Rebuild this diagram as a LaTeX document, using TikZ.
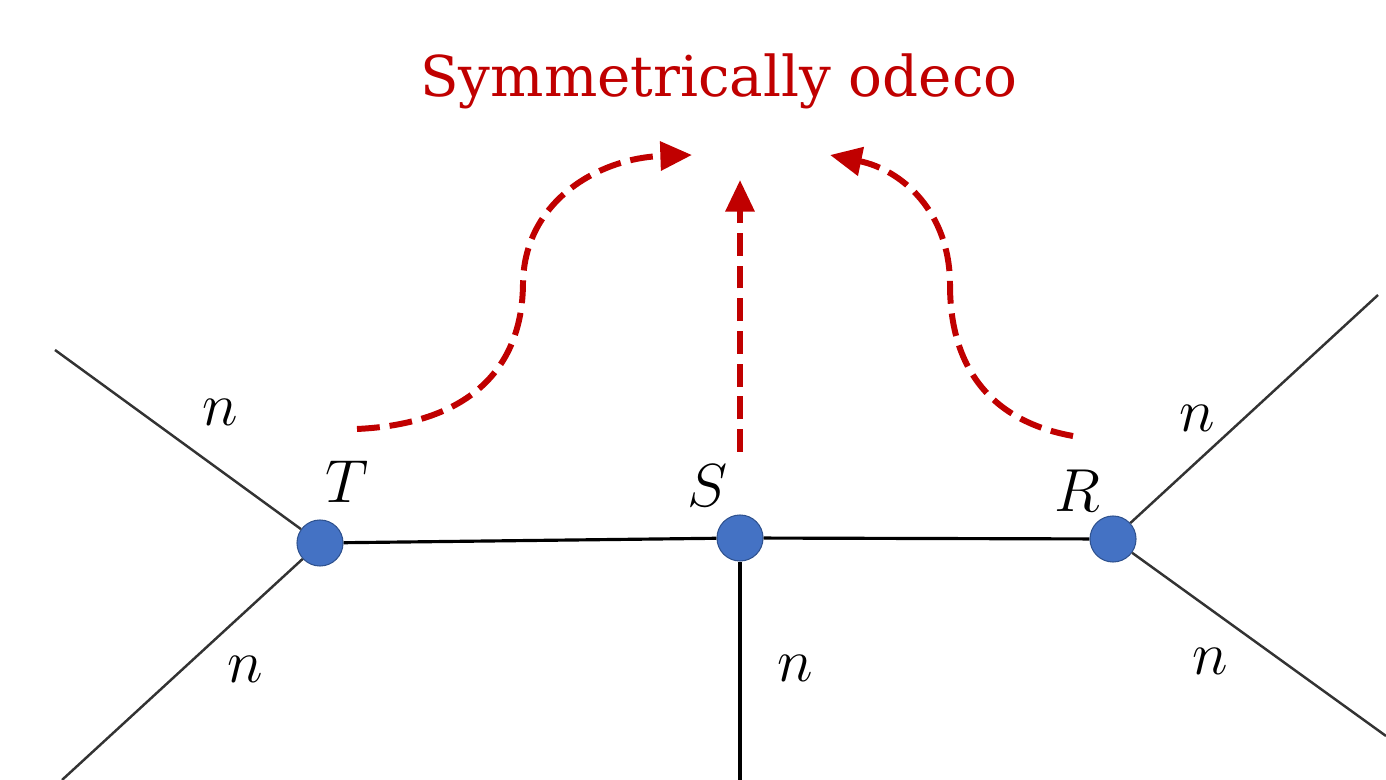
\documentclass[tikz,border=0pt]{standalone}
\usepackage{fontspec}
\usepackage{xcolor}
\usepackage{tikz}
\usetikzlibrary{arrows.meta}
\newfontfamily\titlefont{DejaVu Serif}
\definecolor{odecored}{HTML}{C00000}
\definecolor{vertblue}{HTML}{4472C4}
\definecolor{vertedge}{HTML}{2F528F}
\begin{document}
\begin{tikzpicture}[x=0.01cm,y=-0.01cm,
   vert/.style={circle,fill=vertblue,draw=vertedge,line width=0.3pt,inner sep=0pt,minimum size=0.46cm},
   leg/.style={draw=black!80,line width=0.7pt},
   bond/.style={draw=black,line width=0.9pt},
   flow/.style={draw=odecored,line width=1.7pt,dash pattern=on 6.5pt off 2.8pt,
      -{Triangle[length=9pt,width=8pt]}},
   lab/.style={inner sep=0pt,font=\fontsize{18}{20}\selectfont}]
\useasboundingbox (0,0) rectangle (1386,780);
% title and the three tensors
\node[anchor=base,text=odecored,font=\titlefont\fontsize{16}{19}\selectfont] (title) at (719,97) {Symmetrically odeco};
\node[vert] (T) at (320,543) {};
\node[vert] (S) at (740,538) {};
\node[vert] (R) at (1113,539) {};
% free ends of the legs
\coordinate (tu) at (55,350);  \coordinate (tl) at (62,780);
\coordinate (sd) at (740,780);
\coordinate (ru) at (1378,295); \coordinate (rl) at (1386,736);
\draw[bond] (T) -- (S) -- (R);
\draw[bond] (S) -- (sd);
\draw[leg] (tu) -- (T) -- (tl);
\draw[leg] (ru) -- (R) -- (rl);
% labels
\node[lab] (nTu) at (220,412) {$n$};
\node[lab] (nTl) at (245,669) {$n$};
\node[lab] (nS)  at (795,668) {$n$};
\node[lab] (nRu) at (1197,418) {$n$};
\node[lab] (nRl) at (1210,661) {$n$};
\node[lab] (lT) at (347,482) {$T$};
\node[lab] (lS) at (708,486) {$S$};
\node[lab] (lR) at (1077,491) {$R$};
% dashed arrows up to the title
\coordinate (fT) at (357,429); \coordinate (hT) at (692,155);
\coordinate (fS) at (740,452); \coordinate (hS) at (740,180);
\coordinate (fR) at (1073,436); \coordinate (hR) at (830,155);
\draw[flow] (fT) .. controls (465,424) and (523,372) .. (523,282)
   .. controls (525,200) and (600,158) .. (hT);
\draw[flow] (fS) -- (hS);
\draw[flow] (fR) .. controls (995,422) and (950,372) .. (950,285)
   .. controls (950,212) and (902,170) .. (hR);
\end{tikzpicture}
\end{document}
